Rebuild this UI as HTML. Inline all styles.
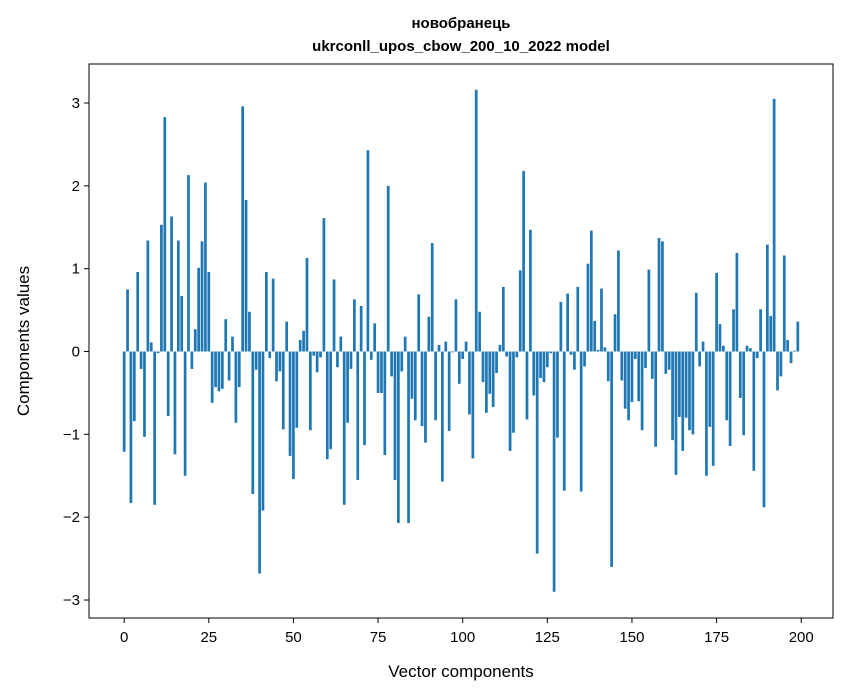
<!DOCTYPE html>
<html><head><meta charset="utf-8"><style>
body{margin:0;background:#fff}
svg{display:block;font-family:"Liberation Sans","DejaVu Sans",sans-serif}
</style></head><body>
<svg id="chart" width="847" height="696" viewBox="0 0 847 696" xmlns="http://www.w3.org/2000/svg">
<rect width="847" height="696" fill="#fff"/>
<text x="461" y="28" text-anchor="middle" font-size="15" font-weight="bold">новобранець</text>
<text x="461" y="51" text-anchor="middle" font-size="15" font-weight="bold">ukrconll_upos_cbow_200_10_2022 model</text>
<g id="bars"></g>
<g id="xticks"></g>
<g id="yticks"></g>
<rect x="89" y="64" width="744" height="554" fill="none" stroke="#000" stroke-width="1"/>
<text x="461" y="677" text-anchor="middle" font-size="17">Vector components</text>
<text x="29" y="341" text-anchor="middle" font-size="17" transform="rotate(-90 29 341)">Components values</text>
</svg>
<script>
const values = [
-1.21,0.75,-1.83,-0.84,0.96,-0.21,-1.03,1.34,0.11,-1.85,
-0.02,1.53,2.83,-0.78,1.63,-1.24,1.34,0.67,-1.50,2.13,
-0.21,0.27,1.01,1.33,2.04,0.96,-0.62,-0.43,-0.48,-0.45,
0.39,-0.35,0.18,-0.86,-0.43,2.96,1.83,0.48,-1.72,-0.22,
-2.68,-1.92,0.96,-0.08,0.88,-0.36,-0.24,-0.94,0.36,-1.26,
-1.54,-0.92,0.14,0.25,1.13,-0.95,-0.05,-0.25,-0.07,1.61,
-1.30,-1.18,0.87,-0.19,0.18,-1.85,-0.86,-0.21,0.63,-1.55,
0.55,-1.13,2.43,-0.10,0.34,-0.50,-0.50,-1.25,2.00,-0.30,
-1.55,-2.07,-0.24,0.18,-2.07,-0.57,-0.83,0.69,-0.90,-1.10,
0.42,1.31,-0.83,0.08,-1.57,0.12,-0.96,-0.01,0.63,-0.39,
-0.09,0.12,-0.76,-1.29,3.16,0.48,-0.37,-0.74,-0.51,-0.67,
-0.26,0.08,0.78,-0.06,-1.20,-0.98,-0.07,0.98,2.18,-0.82,
1.47,-0.53,-2.44,-0.32,-0.37,-0.19,-0.02,-2.90,-1.04,0.60,
-1.68,0.70,-0.04,-0.22,0.78,-1.69,-0.18,1.06,1.46,0.37,
0.02,0.76,0.05,-0.36,-2.60,0.45,1.22,-0.35,-0.69,-0.83,
-0.61,-0.09,-0.60,-0.95,-0.20,0.99,-0.33,-1.15,1.37,1.33,
-0.27,-0.22,-1.07,-1.49,-0.79,-1.20,-0.80,-0.95,-1.00,0.71,
-0.18,0.12,-1.50,-0.91,-1.38,0.95,0.33,0.07,-0.83,-1.14,
0.51,1.19,-0.56,-1.01,0.07,0.04,-1.44,-0.08,0.51,-1.88,
1.29,0.43,3.05,-0.47,-0.30,1.16,0.14,-0.14,0.01,0.36];
const xTicks = [0,25,50,75,100,125,150,175,200];
const yTicks = [-3,-2,-1,0,1,2,3];

const L=89,R=833,T=64,B=618;
const xMin=-10.39,xMax=209.39,yMin=-3.217,yMax=3.471;
const xs=v=>L+(v-xMin)/(xMax-xMin)*(R-L);
const ys=v=>T+(yMax-v)/(yMax-yMin)*(B-T);
const NS='http://www.w3.org/2000/svg';
const gb=document.getElementById('bars');
values.forEach((v,i)=>{
  const r=document.createElementNS(NS,'rect');
  const x0=xs(i-0.4),x1=xs(i+0.4),y0=ys(Math.max(v,0)),y1=ys(Math.min(v,0));
  r.setAttribute('x',x0);r.setAttribute('width',x1-x0);
  r.setAttribute('y',y0);r.setAttribute('height',Math.max(y1-y0,0.3));
  r.setAttribute('fill','#1f77b4');
  
  
  gb.appendChild(r);
});
const gx=document.getElementById('xticks');
xTicks.forEach(t=>{
  const x=xs(t);
  const l=document.createElementNS(NS,'line');
  l.setAttribute('x1',x);l.setAttribute('x2',x);l.setAttribute('y1',B);l.setAttribute('y2',B+5);
  l.setAttribute('stroke','#000');
  
  
  gx.appendChild(l);
  const tx=document.createElementNS(NS,'text');
  tx.setAttribute('x',x);tx.setAttribute('y',B+24);tx.setAttribute('text-anchor','middle');tx.setAttribute('font-size','15');
  tx.textContent=t;
  
  
  gx.appendChild(tx);
});
const gy=document.getElementById('yticks');
yTicks.forEach(t=>{
  const y=ys(t);
  const l=document.createElementNS(NS,'line');
  l.setAttribute('x1',L-5);l.setAttribute('x2',L);l.setAttribute('y1',y);l.setAttribute('y2',y);
  l.setAttribute('stroke','#000');
  
  
  gy.appendChild(l);
  const tx=document.createElementNS(NS,'text');
  tx.setAttribute('x',L-9);tx.setAttribute('y',y+5);tx.setAttribute('text-anchor','end');tx.setAttribute('font-size','15');
  tx.textContent=t<0?'\u2212'+Math.abs(t):String(t);
  
  
  gy.appendChild(tx);
});
</script>
</body></html>
